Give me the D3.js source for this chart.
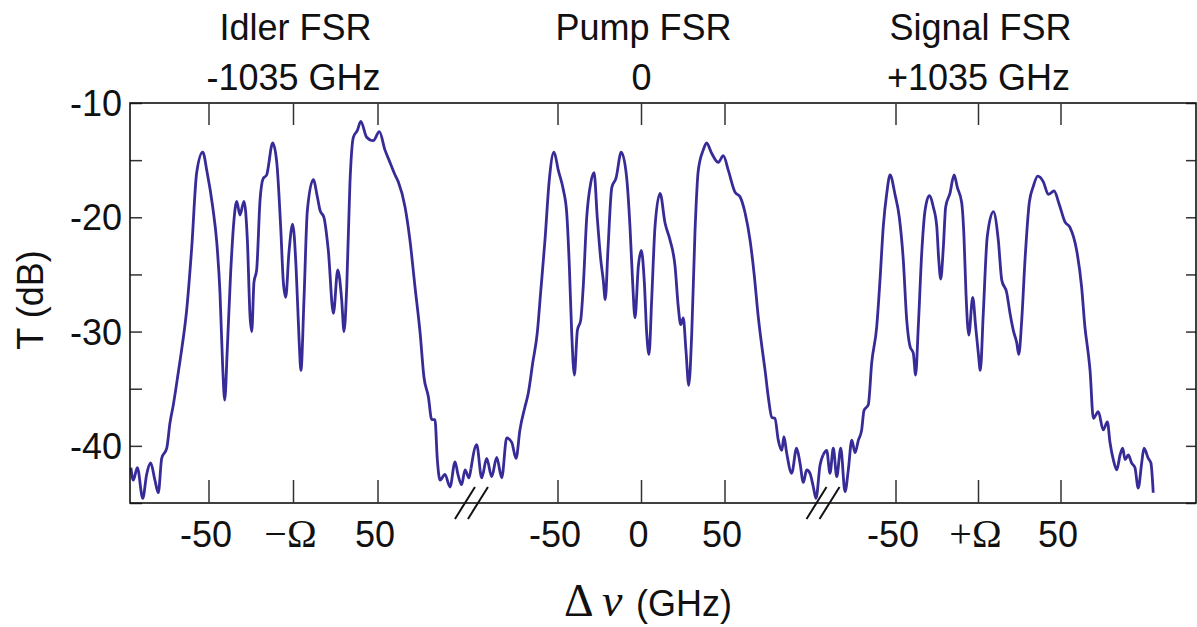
<!DOCTYPE html>
<html>
<head>
<meta charset="utf-8">
<script src="https://cdn.jsdelivr.net/npm/d3@7"></script>
<style>
  body { margin: 0; background: #fff; }
  text { font-family: "Liberation Sans", Arial, sans-serif; fill: #111; }
  .serif { font-family: "Liberation Serif", "Times New Roman", serif; }
</style>
</head>
<body>
<div id="plot"></div>
<script>
// transmission (dB) vs detuning (GHz) around each FSR
var idler = [
  [-96.2,-41.9],[-94.8,-43.0],[-92.4,-41.9],[-89.2,-44.6],[-86.9,-42.5],[-84.5,-41.5],[-82.0,-43.0],
  [-80.0,-44.1],[-78.0,-41.1],[-75.0,-40.2],[-73.1,-38.0],[-71.1,-36.4],[-68.2,-33.6],[-66.2,-31.6],
  [-63.2,-28.1],[-60.2,-22.6],[-57.3,-16.1],[-53.7,-14.3],[-51.2,-16.0],[-47.8,-19.1],[-45.4,-22.2],
  [-43.5,-26.6],[-41.9,-33.1],[-40.7,-36.0],[-39.2,-31.6],[-37.2,-24.9],[-35.2,-20.2],[-33.6,-18.6],
  [-31.7,-19.8],[-29.3,-18.6],[-27.3,-22.0],[-25.7,-28.7],[-24.7,-30.0],[-23.4,-25.7],[-21.8,-24.6],
  [-19.8,-18.5],[-17.9,-16.6],[-15.9,-16.3],[-12.3,-13.5],[-9.9,-15.2],[-7.6,-20.8],[-6.0,-25.7],
  [-4.6,-27.0],[-2.7,-23.1],[-0.5,-20.6],[1.5,-24.3],[3.3,-30.7],[4.4,-33.4],[6.2,-27.2],[8.2,-19.4],
  [11.7,-16.7],[14.1,-18.2],[15.7,-19.4],[18.0,-20.0],[20.6,-22.9],[23.6,-28.4],[26.2,-24.6],
  [28.5,-27.2],[29.9,-30.0],[31.5,-26.1],[33.4,-17.0],[35.4,-13.0],[37.8,-12.4],[39.8,-11.6],
  [43.3,-13.0],[47.2,-13.3],[50.8,-12.5],[54.1,-14.1],[57.1,-15.2],[60.1,-16.3],[62.0,-16.9],
  [66.0,-19.1],[68.9,-22.0],[71.9,-26.1],[74.9,-30.1],[77.2,-34.0],[79.8,-35.7],[81.8,-37.7],
  [83.7,-37.7],[85.1,-41.2],[86.7,-43.0],[89.6,-42.5],[92.6,-43.6],[95.6,-41.4],[97.3,-42.5],
  [99.5,-43.4],[101.5,-42.1],[103.8,-42.8],[105.0,-42.0]
];

var pump = [
  [-102.1,-42.0],[-98.7,-39.9],[-95.7,-42.8],[-92.7,-41.1],[-89.7,-42.7],[-86.7,-41.0],[-83.7,-42.8],
  [-80.7,-39.3],[-77.7,-39.7],[-75.1,-41.1],[-72.8,-38.6],[-69.8,-36.6],[-67.8,-35.4],[-65.1,-32.7],
  [-62.4,-30.1],[-60.4,-26.6],[-57.8,-22.0],[-55.2,-16.7],[-52.4,-14.3],[-49.8,-15.9],[-46.8,-17.6],
  [-44.8,-19.6],[-43.2,-24.3],[-41.8,-30.1],[-40.2,-33.8],[-38.4,-29.9],[-36.4,-29.0],[-34.9,-26.1],
  [-32.8,-20.0],[-30.4,-17.0],[-28.4,-16.1],[-26.5,-20.0],[-24.4,-23.7],[-22.9,-25.5],[-21.7,-27.2],
  [-20.1,-22.9],[-17.8,-17.4],[-15.3,-16.6],[-12.1,-14.3],[-8.9,-16.5],[-6.9,-20.8],[-5.3,-25.7],
  [-3.9,-28.8],[-1.9,-24.3],[-0.1,-22.9],[1.7,-25.7],[3.1,-30.1],[4.5,-32.0],[6.1,-27.2],[8.1,-20.8],
  [11.1,-17.9],[14.1,-20.5],[17.1,-22.0],[20.1,-24.3],[22.0,-27.8],[23.5,-29.4],[25.0,-28.8],
  [26.6,-31.6],[28.3,-34.7],[30.1,-30.1],[32.0,-21.4],[34.0,-15.9],[37.0,-14.1],[39.0,-13.5],
  [42.0,-14.4],[46.0,-15.2],[49.0,-14.6],[52.0,-15.9],[56.0,-17.8],[59.0,-18.2],[62.0,-19.6],
  [65.0,-22.0],[67.4,-24.9],[69.9,-28.7],[72.9,-32.2],[74.0,-33.4],[75.9,-35.7],[78.0,-37.5],
  [79.9,-37.6],[81.9,-39.5],[84.0,-40.4],[85.3,-39.2],[86.9,-40.6],[89.9,-42.4],[92.9,-40.2],
  [94.9,-41.5],[96.9,-43.2],[98.9,-42.1],[100.9,-42.4],[102.9,-43.6],[104.5,-44.6],[106.9,-41.7],
  [108.7,-40.8]
];

var signal = [
  [-94.2,-40.8],[-92.0,-40.4],[-90.0,-42.4],[-88.0,-40.2],[-85.9,-42.7],[-83.5,-40.2],[-80.9,-44.0],
  [-78.9,-42.1],[-76.8,-39.5],[-74.8,-40.6],[-72.8,-39.5],[-70.8,-38.6],[-69.4,-36.9],[-66.8,-36.4],
  [-64.7,-32.7],[-61.7,-29.6],[-59.7,-25.5],[-57.7,-20.8],[-55.6,-17.9],[-53.6,-16.3],[-50.6,-18.0],
  [-48.0,-20.0],[-45.6,-23.7],[-43.5,-29.0],[-41.5,-31.3],[-39.5,-31.9],[-38.1,-33.8],[-36.5,-29.6],
  [-34.4,-23.1],[-32.4,-19.4],[-29.8,-18.1],[-27.4,-19.1],[-25.3,-20.8],[-24.1,-23.7],[-22.9,-25.4],
  [-21.3,-22.6],[-19.9,-19.1],[-17.3,-17.9],[-14.8,-16.3],[-12.8,-17.4],[-10.2,-18.7],[-8.8,-21.7],
  [-7.6,-26.6],[-5.9,-30.3],[-3.5,-27.0],[-1.7,-29.6],[-0.1,-31.9],[1.1,-33.4],[2.9,-28.4],
  [5.3,-21.7],[9.0,-19.5],[12.0,-22.0],[14.1,-25.5],[17.1,-26.6],[19.1,-28.4],[21.1,-29.9],
  [23.2,-31.0],[24.4,-32.0],[26.2,-29.0],[28.2,-23.7],[30.8,-18.7],[33.2,-17.3],[35.9,-16.4],
  [39.3,-16.9],[42.3,-18.0],[45.8,-17.7],[49.0,-18.9],[52.4,-20.4],[55.5,-20.9],[59.5,-22.9],
  [62.5,-26.1],[64.5,-29.6],[66.5,-31.9],[67.6,-33.4],[69.6,-37.6],[72.6,-37.0],[75.6,-38.6],
  [78.1,-37.9],[79.7,-39.7],[81.7,-41.2],[83.8,-42.1],[85.8,-40.8],[87.4,-40.2],[88.8,-41.2],
  [90.8,-40.8],[92.8,-41.5],[94.8,-41.9],[96.8,-43.7],[98.9,-41.5],[100.3,-40.2],[102.9,-41.1],
  [104.5,-41.5],[105.9,-44.1]
];

var titles = ["Idler FSR", "Pump FSR", "Signal FSR"];
var offsets = ["-1035 GHz", "0", "+1035 GHz"];
var xTicks = [-50, 0, 50];
var xTickLabels = [["-50", "\u2212\u03A9", "50"], ["-50", "0", "50"], ["-50", "+\u03A9", "50"]];
var yTicks = [-10, -15, -20, -25, -30, -35, -40, -45];
var yTickLabels = [-10, -20, -30, -40];
var breaks = [105.3, 108.7]; // GHz, on idler and pump axes

var W = 1197, H = 627;
var plotLeft = 130, plotRight = 1196, plotTop = 103, plotBottom = 503;
var color = "#372c97";

var svg = d3.select("#plot")
  .append("svg")
  .attr("width", W)
  .attr("height", H)

var yScale = d3.scaleLinear()
  .domain([-45, -10])
  .range([plotBottom, plotTop])

// one x scale per FSR window (broken axis)
var xScales = [
  d3.scaleLinear().domain([-50, 50]).range([209, 378]),
  d3.scaleLinear().domain([-50, 50]).range([558, 725]),
  d3.scaleLinear().domain([-50, 50]).range([896, 1061])
];

var series = [idler, pump, signal];

// traces
series.forEach(function (d, i) {
  var line = d3.line()
    .x(p => xScales[i](p[0]))
    .y(p => yScale(p[1]))
    .curve(d3.curveMonotoneX)

  svg.append("path")
    .datum(d)
    .attr("d", line)
    .attr("fill", "none")
    .attr("stroke", color)
    .attr("stroke-width", 2.8)
    .attr("stroke-linejoin", "round")
})

// frame
svg.append("g")
  .attr("transform", "translate(" + plotLeft + ",0)")
  .call(d3.axisRight(yScale).tickValues(yTicks).tickSize(12).tickFormat(""))
  .call(g => g.select(".domain").remove())
svg.append("g")
  .attr("transform", "translate(" + plotRight + ",0)")
  .call(d3.axisLeft(yScale).tickValues(yTicks).tickSize(10).tickFormat(""))
  .call(g => g.select(".domain").remove())

svg.selectAll(".tick line").attr("stroke", "#333").attr("stroke-width", 1.5)

svg.append("rect")
  .attr("x", plotLeft).attr("y", plotTop)
  .attr("width", plotRight - plotLeft).attr("height", plotBottom - plotTop)
  .attr("fill", "none")
  .attr("stroke", "#111")
  .attr("stroke-width", 1.6)

// y tick labels
svg.selectAll(".ylab")
  .data(yTickLabels)
  .enter()
  .append("text")
    .attr("x", 122)
    .attr("y", d => yScale(d))
    .attr("dy", "0.36em")
    .attr("text-anchor", "end")
    .style("font-size", "36px")
    .text(d => d)

// x ticks and labels for each window
xScales.forEach(function (xs, i) {
  var g = svg.append("g")
  g.selectAll(".tt")
    .data(xTicks)
    .enter()
    .append("line")
      .attr("x1", d => xs(d)).attr("x2", d => xs(d))
      .attr("y1", plotTop).attr("y2", plotTop + 22)
      .attr("stroke", "#333").attr("stroke-width", 1.5)
  g.selectAll(".tb")
    .data(xTicks)
    .enter()
    .append("line")
      .attr("x1", d => xs(d)).attr("x2", d => xs(d))
      .attr("y1", plotBottom).attr("y2", plotBottom - 23)
      .attr("stroke", "#333").attr("stroke-width", 1.5)

  g.selectAll(".xl")
    .data(xTicks)
    .enter()
    .append("text")
      .attr("class", (d, j) => xTickLabels[i][j].indexOf("\u03A9") >= 0 ? "serif" : null)
      .attr("x", d => xs(d) - 3)
      .attr("y", 547)
      .attr("text-anchor", "middle")
      .style("font-size", (d, j) => xTickLabels[i][j].indexOf("\u03A9") >= 0 ? "40px" : "36px")
      .text((d, j) => xTickLabels[i][j])

  svg.append("text")
    .attr("x", xs(0) + 2)
    .attr("y", 40)
    .attr("text-anchor", "middle")
    .style("font-size", "36px")
    .text(titles[i])
  svg.append("text")
    .attr("x", xs(0))
    .attr("y", 90)
    .attr("text-anchor", "middle")
    .style("font-size", "36px")
    .text(offsets[i])
})

// axis break marks
breaks.forEach(function (b, i) {
  var cx = xScales[i](b)
  ;[-6.5, 6.5].forEach(function (o) {
    svg.append("line")
      .attr("x1", cx + o - 10).attr("y1", plotBottom + 16)
      .attr("x2", cx + o + 10).attr("y2", plotBottom - 16)
      .attr("stroke", "#111")
      .attr("stroke-width", 2)
  })
})

// axis titles
svg.append("text")
  .attr("transform", "translate(43,300) rotate(-90)")
  .attr("text-anchor", "middle")
  .style("font-size", "36px")
  .text("T (dB)")

var xl = svg.append("text")
  .attr("y", 616)
xl.append("tspan")
  .attr("class", "serif")
  .attr("x", 564)
  .style("font-size", "46px")
  .text("\u0394")
xl.append("tspan")
  .attr("class", "serif")
  .attr("x", 602)
  .style("font-size", "46px")
  .style("font-style", "italic")
  .text("\u03BD")
xl.append("tspan")
  .attr("x", 636)
  .style("font-size", "36px")
  .text("(GHz)")
</script>
</body>
</html>
